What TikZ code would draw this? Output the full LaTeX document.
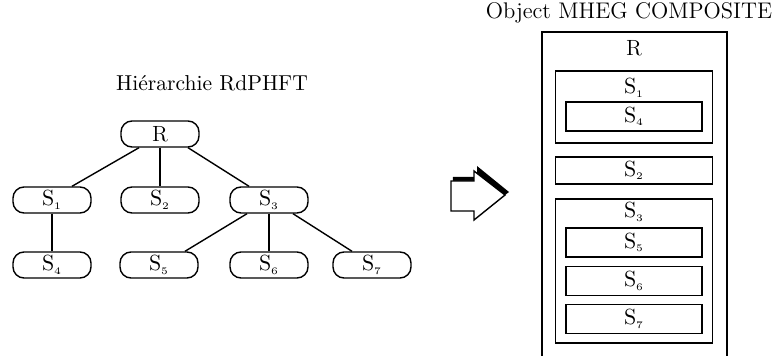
\documentclass[tikz,border=0pt]{standalone}
\usetikzlibrary{positioning}
\newcommand{\sname}[1]{$\mathrm{S}_{\scriptscriptstyle #1}$}
\begin{document}
\begin{tikzpicture}[x=0.5pt, y=-0.5pt, font=\fontsize{11}{13}\selectfont,
    tnode/.style={draw, line width=0.7pt, rounded corners=5.5pt, minimum width=39pt, minimum height=13pt, inner sep=0pt},
    cbox/.style={draw, line width=0.75pt, minimum width=78.5pt, inner sep=0pt},
    ibox/.style={draw, line width=0.8pt, minimum width=68pt, minimum height=14.5pt, inner sep=0pt}]
    \useasboundingbox (0,0) rectangle (774,356);
    \clip (0,0) rectangle (774,356);
    \node[font=\fontsize{10.8}{13}\selectfont] (htitle) at (212,83) {Hiérarchie RdPHFT};
    \node[tnode] (R) at (160,134) {R};
    \node[tnode] (S1) at (52,200) {\sname{1}};
    \node[tnode] (S2) at (160,200) {\sname{2}};
    \node[tnode] (S3) at (269,200) {\sname{3}};
    \node[tnode] (S4) at (52,265) {\sname{4}};
    \node[tnode] (S5) at (159,265) {\sname{5}};
    \node[tnode] (S6) at (269,265) {\sname{6}};
    \node[tnode] (S7) at (372,265) {\sname{7}};
    \draw[line width=0.7pt] ([xshift=-10.5pt]R.south) -- ([xshift=10pt]S1.north);
    \draw[line width=0.7pt] (R) -- (S2);
    \draw[line width=0.7pt] ([xshift=14pt]R.south) -- ([xshift=-10pt]S3.north);
    \draw[line width=0.7pt] (S1) -- (S4);
    \draw[line width=0.7pt] ([xshift=-11pt]S3.south) -- ([xshift=13pt]S5.north);
    \draw[line width=0.7pt] (S3) -- (S6);
    \draw[line width=0.7pt] ([xshift=12pt]S3.south) -- ([xshift=-10pt]S7.north);
    \fill[black] (453,177) -- (477,177) -- (477,166) -- (509,192) -- (505,195) -- (474,220) -- (474,211) -- (451,211) -- cycle;
    \filldraw[fill=white, line width=0.7pt] (451,181) -- (474,181) -- (474,171) -- (505,195) -- (474,220) -- (474,211) -- (451,211) -- cycle;
    \node[font=\fontsize{11.3}{13}\selectfont] (otitle) at (629,13) {Object MHEG COMPOSITE};
    \draw[line width=0.75pt] (542,370) -- (542,32) -- (727,32) -- (727,370);
    \node (rlab) at (634,48) {R};
    \node[cbox, minimum height=36pt] (c1) at (634,107) {};
    \node (s1lab) at (634,88) {\sname{1}};
    \node[ibox] (s4box) at (634,116.5) {\sname{4}};
    \node[cbox, minimum height=13.5pt] (s2box) at (634,170.5) {\sname{2}};
    \node[cbox, minimum height=72pt] (c3) at (634,271) {};
    \node (s3lab) at (634,212) {\sname{3}};
    \node[ibox] (s5box) at (634,242.5) {\sname{5}};
    \node[ibox] (s6box) at (634,281) {\sname{6}};
    \node[ibox] (s7box) at (634,319) {\sname{7}};
\end{tikzpicture}
\end{document}
